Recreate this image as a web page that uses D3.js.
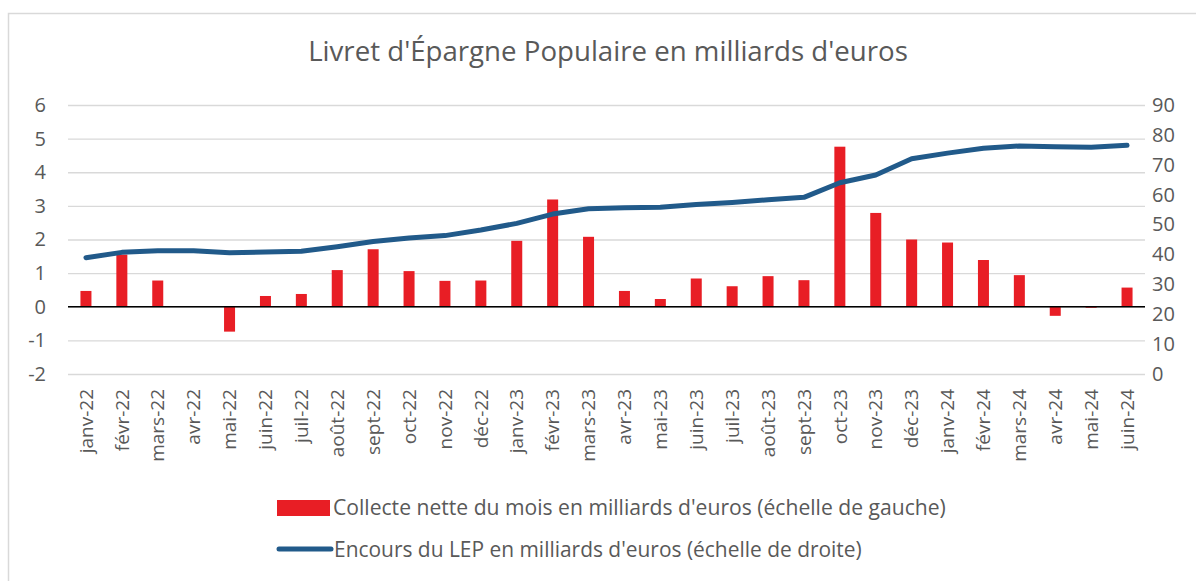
<!DOCTYPE html>
<html><head><meta charset="utf-8">
<script src="https://cdn.jsdelivr.net/npm/d3@7"></script>
<style>html,body{margin:0;padding:0;background:#fff;}svg{display:block;}</style>
</head><body>
<svg id="c" width="1196" height="581"></svg>
<script>
const categories = ["janv-22","févr-22","mars-22","avr-22","mai-22","juin-22","juil-22","août-22","sept-22","oct-22","nov-22","déc-22","janv-23","févr-23","mars-23","avr-23","mai-23","juin-23","juil-23","août-23","sept-23","oct-23","nov-23","déc-23","janv-24","févr-24","mars-24","avr-24","mai-24","juin-24"];
const collecte = [0.47,1.55,0.78,0,-0.74,0.32,0.38,1.09,1.71,1.06,0.77,0.78,1.96,3.19,2.08,0.47,0.23,0.84,0.61,0.91,0.79,4.76,2.79,2.0,1.91,1.39,0.94,-0.27,-0.03,0.57];
const encours = [38.9,40.7,41.2,41.2,40.6,40.8,41.1,42.6,44.3,45.5,46.3,48.2,50.4,53.5,55.3,55.6,55.8,56.7,57.4,58.3,59.1,64.0,66.6,72.0,73.9,75.5,76.3,76.0,75.9,76.5];
const leftTicks = [-2,-1,0,1,2,3,4,5,6];
const rightTicks = [0,10,20,30,40,50,60,70,80,90];
const title = "Livret d'Épargne Populaire en milliards d'euros";
const legendBar = "Collecte nette du mois en milliards d'euros (échelle de gauche)";
const legendLine = "Encours du LEP en milliards d'euros (échelle de droite)";

const svg = d3.select("#c");
const font = "'Open Sans', sans-serif";
const grey = "#595959";
const red = "#e81e25";
const blue = "#215a8a";

// border
svg.append("rect").attr("x",8.5).attr("y",13.5).attr("width",1200).attr("height",600)
  .attr("fill","none").attr("stroke","#d9d9d9").attr("stroke-width",1.5);

const x0 = 68, x1 = 1145, yTop = 105, yBot = 374;
const xc = d3.scaleBand().domain(categories).range([x0,x1]);
const yL = d3.scaleLinear().domain([-2,6]).range([yBot,yTop]);
const yR = d3.scaleLinear().domain([0,90]).range([yBot,yTop]);

// gridlines
svg.append("g").selectAll("line").data(leftTicks).join("line")
  .attr("x1",x0).attr("x2",x1).attr("y1",d=>yL(d)+0.5).attr("y2",d=>yL(d)+0.5)
  .attr("stroke","#d9d9d9").attr("stroke-width",1.3);

// left axis
const gl = svg.append("g").attr("transform",`translate(${x0},0)`)
  .call(d3.axisLeft(yL).tickValues(leftTicks).tickSize(0).tickPadding(22).tickFormat(d=>String(d)));
gl.select(".domain").remove();
gl.selectAll("text").attr("font-family",font).attr("font-size",20).attr("fill",grey);

// right axis
const gr = svg.append("g").attr("transform",`translate(${x1},0)`)
  .call(d3.axisRight(yR).tickValues(rightTicks).tickSize(0).tickPadding(7).tickFormat(d=>String(d)));
gr.select(".domain").remove();
gr.selectAll("text").attr("font-family",font).attr("font-size",20).attr("fill",grey);

// bars
svg.append("g").selectAll("rect").data(collecte).join("rect")
  .attr("x",(d,i)=>xc(categories[i])+xc.bandwidth()/2-5.5)
  .attr("width",11)
  .attr("y",d=>Math.min(yL(d),yL(0)))
  .attr("height",d=>Math.abs(yL(d)-yL(0)))
  .attr("fill",red);

// zero line
svg.append("line").attr("x1",x0).attr("x2",x1).attr("y1",yL(0)).attr("y2",yL(0))
  .attr("stroke","#000").attr("stroke-width",1.5);

// line
const line = d3.line().x((d,i)=>xc(categories[i])+xc.bandwidth()/2).y(d=>yR(d));
svg.append("path").datum(encours).attr("d",line).attr("fill","none")
  .attr("stroke",blue).attr("stroke-width",5).attr("stroke-linejoin","round").attr("stroke-linecap","round");

// x axis labels
const gx = svg.append("g").attr("transform",`translate(0,${yBot})`)
  .call(d3.axisBottom(xc).tickSize(0).tickPadding(0));
gx.select(".domain").remove();
gx.selectAll("text").attr("font-family",font).attr("font-size",19).attr("fill",grey)
  .attr("text-anchor","end").attr("dy","0.35em")
  .attr("transform","translate(0,15) rotate(-90)");

function fit(sel, target){
  const w = sel.node().getComputedTextLength();
  const fs = parseFloat(sel.attr("font-size"));
  sel.attr("font-size", fs*target/w);
}
// title
const t = svg.append("text").attr("x",608).attr("y",61).attr("text-anchor","middle")
  .attr("font-family",font).attr("font-size",24).attr("fill",grey).text(title);
fit(t,600);

// legend
svg.append("rect").attr("x",277).attr("y",500).attr("width",53).attr("height",16).attr("fill",red);
const l1 = svg.append("text").attr("x",333).attr("y",515).attr("font-family",font).attr("font-size",19).attr("fill",grey).text(legendBar);
fit(l1,613);
svg.append("line").attr("x1",279).attr("x2",331).attr("y1",549).attr("y2",549)
  .attr("stroke",blue).attr("stroke-width",5).attr("stroke-linecap","round");
const l2 = svg.append("text").attr("x",334).attr("y",557).attr("font-family",font).attr("font-size",19).attr("fill",grey).text(legendLine);
fit(l2,528);
</script>
</body></html>
